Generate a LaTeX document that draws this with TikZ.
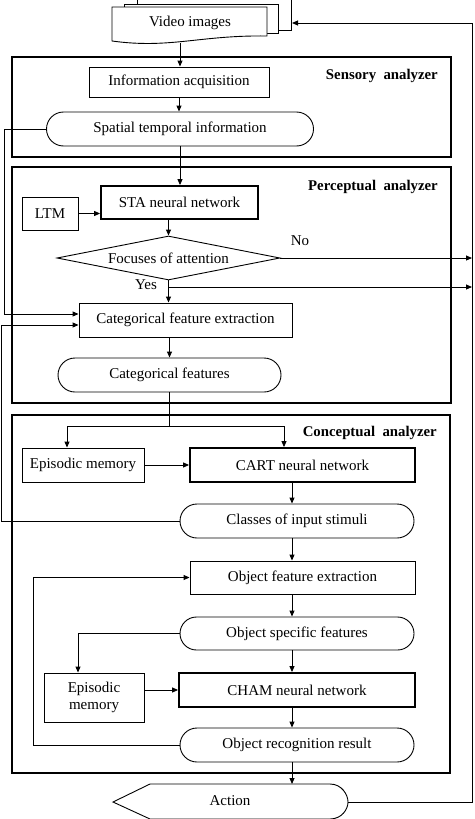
\documentclass[tikz,border=0pt]{standalone}
\usepackage{fontspec}
\setmainfont{Liberation Serif}
\usetikzlibrary{arrows.meta,shapes.geometric,shapes.misc}
\tikzstyle{block}=[rectangle, draw, line width=0.9pt, inner sep=1pt, font=\fontsize{15}{16.5}\selectfont]
\tikzstyle{heavyblock}=[block, line width=1.8pt]
\tikzstyle{term}=[rounded rectangle, draw, line width=0.9pt, inner sep=1pt, font=\fontsize{15}{16.5}\selectfont]
\tikzstyle{decision}=[diamond, aspect=5, draw, line width=0.9pt, inner sep=1pt, font=\fontsize{15}{16.5}\selectfont]
\tikzstyle{frame}=[draw, line width=2.8pt]
\tikzstyle{title}=[anchor=east, inner sep=0pt, font=\bfseries\fontsize{14.8}{16}\selectfont]
\tikzstyle{doc}=[draw, fill=white, line width=0.9pt]
\tikzstyle{arr}=[draw, line width=0.9pt, -{Triangle[length=6pt,width=5pt]}]
\newcommand{\block}{\node[block]}
\newcommand{\term}{\node[term]}

\begin{document}
\begin{tikzpicture}[x=1pt, y=-1pt
  ,every edge/.style={arr}
]
\useasboundingbox (0,0) rectangle (474,819);
\draw[doc] (137,-2) rectangle (291,30);
\draw[doc] (124,4) rectangle (278,33);
\draw[doc] (112,7) -- (267,7) -- (267,36) .. controls (200,35) and (170,49) .. (112,41) -- cycle;
\node[font=\fontsize{15}{16.5}\selectfont] (video) at (190,23) {Video images};
\coordinate (vidR) at (292,23);
\coordinate (vidB) at (180,43);
\coordinate (rt) at (472,0);
\coordinate (lfA) at (4,0);
\coordinate (lfB) at (1.5,0);
\coordinate (lfC) at (33,0);
\coordinate (lfD) at (78,0);
\coordinate (colB) at (292,0);
\coordinate (spL) at (67,426);
\coordinate (spR) at (284,426);
\coordinate (yesB) at (169,287);
\coordinate (actT) at (292,784);
\coordinate (actR) at (348,802);

\draw[frame] (12,57) rectangle (451,157);
\draw[frame] (12,167) rectangle (451,403);
\draw[frame] (12,415) rectangle (450,773);
\node[title] (sens) at (438,76) {Sensory~~analyzer};
\node[title] (perc) at (438,187) {Perceptual~~analyzer};
\node[title] (conc) at (437,433) {Conceptual~~analyzer};

\block[minimum width=180pt, minimum height=30pt] (info) at (179,82) {Information acquisition};
\term[minimum width=269pt, minimum height=34pt] (spatial) at (180,129) {Spatial temporal information};
\node[heavyblock, minimum width=157pt, minimum height=33pt] (sta) at (179.5,202.5) {STA neural network};
\block[minimum width=56pt, minimum height=33pt] (ltm) at (50,213.5) {LTM};
\node[decision, minimum width=223pt, minimum height=44pt] (focus) at (168.5,258) {Focuses of attention};
\block[minimum width=213pt, minimum height=34pt] (catext) at (185.5,320) {Categorical feature extraction};
\term[minimum width=225pt, minimum height=34pt] (catfeat) at (169.5,375) {Categorical features};
\block[minimum width=122pt, minimum height=34pt] (epiA) at (83,465) {Episodic memory};
\node[heavyblock, minimum width=225pt, minimum height=34pt] (cart) at (302.5,465) {CART neural network};
\term[minimum width=236pt, minimum height=34pt] (classes) at (297,521) {Classes of input stimuli};
\block[minimum width=225pt, minimum height=33pt] (ofe) at (302.5,577.5) {Object feature extraction};
\term[minimum width=236pt, minimum height=33pt] (osf) at (297,633.5) {Object specific features};
\block[minimum width=100pt, minimum height=49pt, align=center] (epiB) at (94,697.5) {Episodic\\memory};
\node[heavyblock, minimum width=236pt, minimum height=34pt] (cham) at (297,690) {CHAM neural network};
\term[minimum width=236pt, minimum height=34pt] (orr) at (297,745) {Object recognition result};
\draw[doc] (113,802) -- (150,784) -- (330,784) .. controls (342,784) and (348,795) .. (actR)
  .. controls (348,809) and (342,819) .. (330,819) -- (150,819) -- cycle;
\node[font=\fontsize{15}{16.5}\selectfont] (action) at (230,801) {Action};

\node[font=\fontsize{15}{16.5}\selectfont] (no) at (300,241) {No};
\node[font=\fontsize{15}{16.5}\selectfont] (yes) at (146,285) {Yes};

\path
(vidB) edge (vidB |- info.north)
(info.south) edge (info.south |- spatial.north)
(spatial.south) edge (spatial.south |- sta.north)
(ltm.east) edge (ltm.east -| sta.west)
(sta.south -| focus) edge (focus.north)
(focus.south) edge (focus.south |- catext.north)
(focus.east) edge (focus.east -| rt)
(yesB) edge (yesB -| rt)
(catext.south -| catfeat) edge (catfeat.north)
(spL) edge (spL |- epiA.north)
(spR) edge (spR |- cart.north)
(epiA.east) edge (epiA.east -| cart.west)
(cart.south -| colB) edge (classes.north -| colB)
(classes.south -| colB) edge (ofe.north -| colB)
(ofe.south -| colB) edge (osf.north -| colB)
(osf.south -| colB) edge (cham.north -| colB)
(cham.west -| epiB.east) edge (cham.west)
(cham.south -| colB) edge (orr.north -| colB)
(orr.south -| colB) edge (actT)
;
\draw[line width=0.9pt] (catfeat.south) -- (catfeat.south |- spL);
\draw[line width=0.9pt] (spL) -- (spR);
\draw[arr] (spatial.west) -- (spatial.west -| lfA) |- ([yshift=6pt]catext.west);
\draw[arr] (classes.west) -- (classes.west -| lfB) |- ([yshift=-5pt]catext.west);
\draw[arr] (orr.west) -- (orr.west -| lfC) |- (ofe.west);
\draw[arr] (osf.west) -| (lfD |- epiB.north);
\draw[arr] (actR) -- (actR -| rt) |- (vidR);
\end{tikzpicture}
\end{document}
